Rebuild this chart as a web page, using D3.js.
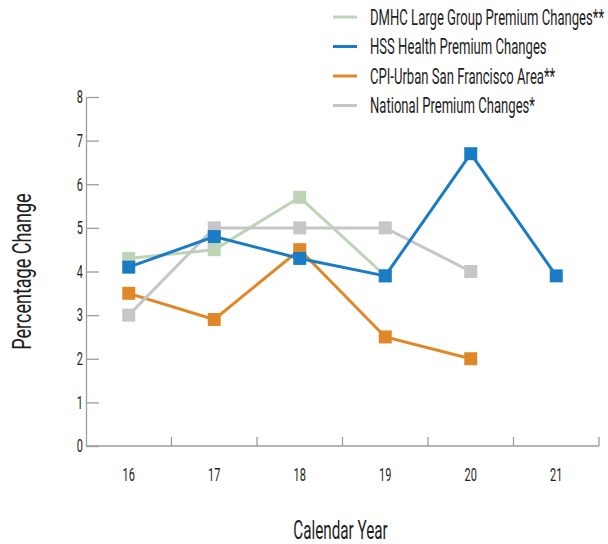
<!DOCTYPE html>
<html>
<head>
<meta charset="utf-8">
<script src="https://cdn.jsdelivr.net/npm/d3@7"></script>
<style>
  body { margin: 0; background: #fff; }
  text { font-family: Roboto, "Liberation Sans", sans-serif; fill: #1e1e1e; }
</style>
</head>
<body>
<div id="chart-area"></div>
<script>
const WIDTH = 608;
const HEIGHT = 544;

// data
const years = ["16", "17", "18", "19", "20", "21"];
const yTicks = [0, 1, 2, 3, 4, 5, 6, 7, 8];
const dmhc = [4.3, 4.5, 5.7, 3.9, null, null];
const hss = [4.1, 4.8, 4.3, 3.9, 6.7, 3.9];
const cpi = [3.5, 2.9, 4.5, 2.5, 2.0, null];
const national = [3.0, 5.0, 5.0, 5.0, 4.0, null];

const seriesNames = ["DMHC Large Group Premium Changes**", "HSS Health Premium Changes", "CPI-Urban San Francisco Area**", "National Premium Changes*"];
const seriesValues = [dmhc, hss, cpi, national];
const seriesColors = ["#bfd3b6", "#1a7cc4", "#e08828", "#c6c6c8"];
const drawOrder = [0, 2, 3, 1];

const margin = { left: 86, right: 9, top: 97, bottom: 98 };
const w = WIDTH - margin.left - margin.right;
const h = HEIGHT - margin.top - margin.bottom;
const SQUEEZE = 0.61; // no condensed face installed, so narrow the glyphs instead

const svg = d3.select("#chart-area").append("svg").attr("width", WIDTH).attr("height", HEIGHT);
const group = svg.append("g").attr("transform", `translate(${margin.left},${margin.top})`);

var x = d3.scaleBand().domain(years).range([0, w]);
var y = d3.scaleLinear().domain([0, 8]).range([h, 0]);
const cx = (d) => x(d) + x.bandwidth() / 2;

// y axis, ticks pointing into the plot
var yAxisGroup = group.append("g").attr("class", "y-axis")
    .call(d3.axisLeft(y).tickValues(yTicks).tickSizeInner(-13).tickSizeOuter(0).tickPadding(3));
yAxisGroup.selectAll("path, line").attr("stroke", "#9c9c9c").attr("stroke-width", 1.3);
yAxisGroup.selectAll("text").attr("font-size", "18px").attr("dy", "0.32em").style("fill", "#1e1e1e").attr("font-family", null);

// x axis: baseline, boundary ticks, centred labels
var xAxisGroup = group.append("g").attr("class", "x-axis").attr("transform", `translate(0, ${h})`);
xAxisGroup.append("line").attr("x1", 0).attr("x2", w).attr("stroke", "#9c9c9c").attr("stroke-width", 1.3);
xAxisGroup.selectAll(".bound").data(years).enter().append("line").attr("class", "bound")
    .attr("x1", (d) => x(d) + x.bandwidth()).attr("x2", (d) => x(d) + x.bandwidth())
    .attr("y1", 0).attr("y2", -9)
    .attr("stroke", "#9c9c9c").attr("stroke-width", 1.3);
xAxisGroup.selectAll(".lbl").data(years).enter().append("text").attr("class", "lbl")
    .attr("x", cx).attr("y", 35)
    .attr("text-anchor", "middle").attr("font-size", "18px")
    .text((d) => d);

var yLabel = group.append("text").attr("class", "y axis-label")
    .attr("x", -(h / 2)).attr("y", -55)
    .attr("font-size", "25px").attr("text-anchor", "middle")
    .attr("transform", "rotate(-90)")
    .attr("data-squeeze", 0.72)
    .text("Percentage Change");

var xLabel = group.append("text").attr("class", "x axis-label")
    .attr("x", w / 2 - 2).attr("y", h + 93)
    .attr("font-size", "25px").attr("text-anchor", "middle")
    .text("Calendar Year");

// series
const line = d3.line().defined((d) => d[1] != null).x((d) => cx(d[0])).y((d) => y(d[1]));
drawOrder.forEach((i) => {
    const pts = years.map((yr, j) => [yr, seriesValues[i][j]]);
    group.append("path").datum(pts)
        .attr("fill", "none").attr("stroke", seriesColors[i]).attr("stroke-width", 3)
        .attr("d", line);
    group.selectAll(null).data(pts.filter((d) => d[1] != null)).enter().append("rect")
        .attr("x", (d) => cx(d[0]) - 6.5).attr("y", (d) => y(d[1]) - 6.5)
        .attr("width", 13).attr("height", 13)
        .attr("fill", seriesColors[i]);
});

// legend
var legend = svg.append("g").attr("transform", "translate(333, 17)");
seriesNames.forEach((name, i) => {
    var row = legend.append("g").attr("transform", `translate(0, ${i * 29.5})`);
    row.append("line").attr("x1", 0).attr("x2", 24)
        .attr("stroke", seriesColors[i]).attr("stroke-width", 3);
    row.append("text").attr("x", 37).attr("y", 7.5)
        .attr("font-size", "22px").attr("data-squeeze", 0.595).text(name);
});

// squeeze every text horizontally about its own anchor
svg.selectAll("text").each(function () {
    const t = d3.select(this);
    const k = +(t.attr("data-squeeze") || SQUEEZE);
    const x0 = +(t.attr("x") || 0);
    const tr = t.attr("transform") || "";
    t.attr("x", x0 / k).attr("transform", `${tr} scale(${k},1)`);
});
</script>
</body>
</html>
